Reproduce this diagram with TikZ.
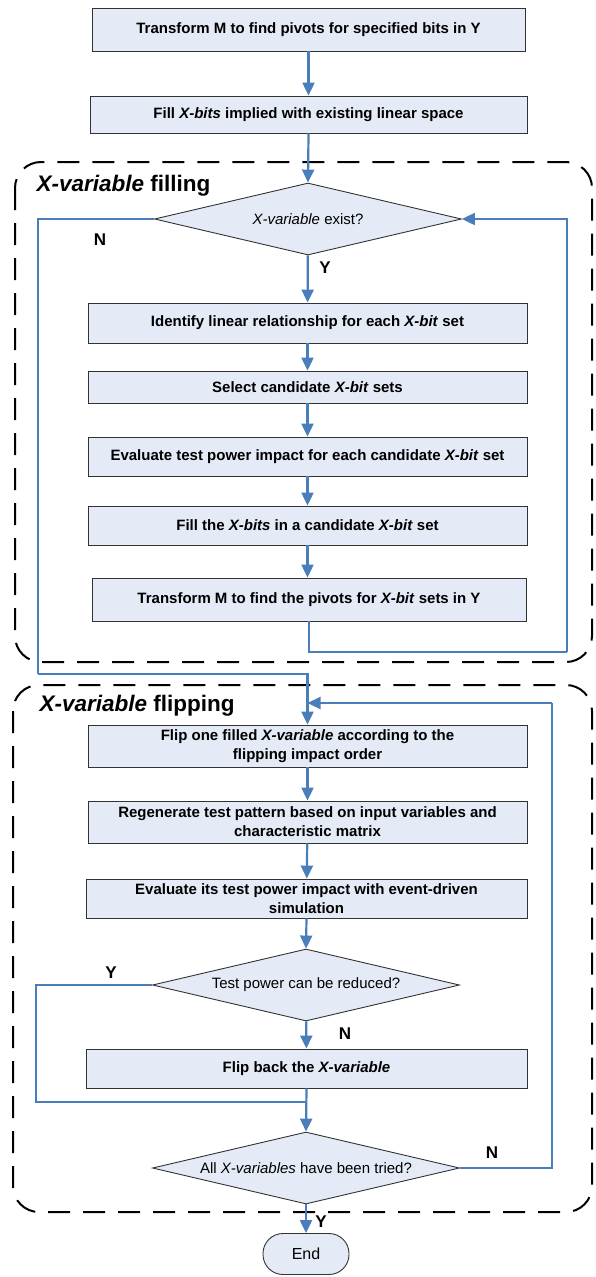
\documentclass[tikz,border=0pt]{standalone}
\usepackage{fontspec}
\setmainfont{Liberation Sans}
\usepackage{xcolor}
\usepackage{tikz}
\usetikzlibrary{arrows.meta,positioning,shapes.geometric}
\definecolor{boxfill}{RGB}{229,235,246}
\definecolor{flowblue}{RGB}{74,126,187}

\begin{document}
\begin{tikzpicture}[x=1pt,y=-1pt,
  stepbox/.style={draw=black!80,fill=boxfill,line width=0.9pt,minimum width=439pt,inner sep=2pt,
    font=\fontsize{15}{19}\selectfont\bfseries,align=center},
  decision/.style={diamond,draw=black!80,fill=boxfill,line width=0.9pt,minimum width=307pt,
    minimum height=72pt,aspect=4.2,inner sep=0pt,font=\fontsize{15}{18}\selectfont},
  group/.style={draw=black,line width=2pt,dash pattern=on 22pt off 13pt,rounded corners=26pt},
  flow/.style={draw=flowblue,line width=2.2pt,-{Triangle[length=13pt,width=12pt]}},
  link/.style={draw=flowblue,line width=2.2pt},
  yn/.style={font=\fontsize{17}{19}\selectfont\bfseries},
  grouptitle/.style={font=\fontsize{22.5}{26}\selectfont\bfseries,anchor=west}]
\useasboundingbox (0,0) rectangle (596,1277);

% dashed groups
\draw[group] (15,162) rectangle (592,662);
\draw[group] (13,685) rectangle (592,1212);
\node[grouptitle] (filltitle) at (33,186) {\textit{X-variable} filling};
\node[grouptitle] (fliptitle) at (36,706) {\textit{X-variable} flipping};

% filling part
\node[stepbox,minimum width=433pt,minimum height=43pt] (pivots) at (308.5,29.5) {Transform M to find pivots for specified bits in Y};
\node[stepbox,minimum width=437pt,minimum height=37pt] (implied) at (308.5,114.5) {Fill \textit{X-bits} implied with existing linear space};
\node[decision] (xexist) at (308,219) {\textit{X-variable} exist?};
\node[stepbox,minimum height=40pt] (identify) at (307.5,323) {Identify linear relationship for each \textit{X-bit} set};
\node[stepbox,minimum height=32pt] (select) at (307.5,387) {Select candidate \textit{X-bit} sets};
\node[stepbox,minimum height=39pt] (evalcand) at (307.5,456.5) {Evaluate test power impact for each candidate \textit{X-bit} set};
\node[stepbox,minimum height=39pt] (fillset) at (307.5,525.5) {Fill the \textit{X-bits} in a candidate \textit{X-bit} set};
\node[stepbox,minimum width=434pt,minimum height=43pt] (transform) at (309,599.5) {Transform M to find the pivots for \textit{X-bit} sets in Y};

% flipping part
\node[stepbox,minimum height=42pt] (flipone) at (307.5,746) {Flip one filled \textit{X-variable} according to the\\flipping impact order};
\node[stepbox,minimum height=42pt] (regen) at (307.5,822) {Regenerate test pattern based on input variables and\\characteristic matrix};
\node[stepbox,minimum width=441pt,minimum height=39pt] (evalsim) at (306.5,898.5) {Evaluate its test power impact with event-driven\\simulation};
\node[decision] (reduced) at (306,985) {Test power can be reduced?};
\node[stepbox,minimum width=441pt,minimum height=39pt] (flipback) at (306.5,1068.5) {Flip back the \textit{X-variable}};
\node[decision] (alltried) at (306,1168) {All \textit{X-variables} have been tried?};
\node[draw=black!80,fill=boxfill,line width=0.9pt,rounded corners=20pt,minimum width=86pt,
  minimum height=41pt,font=\fontsize{16}{18}\selectfont] (endnode) at (306,1254) {End};

% helper corners
\coordinate (loopR) at (567,652);
\coordinate (nleft) at (38,674);
\coordinate (backR) at (552,703);
\coordinate (yleft) at (36,1102);

% connectors
\draw[flow] (pivots) -- (implied);
\draw[flow] (implied.south) -- (xexist.north);
\draw[flow] (xexist) -- (identify);
\draw[flow] (identify) -- (select);
\draw[flow] (select) -- (evalcand);
\draw[flow] (evalcand) -- (fillset);
\draw[flow] (fillset.south) -- (transform.north -| fillset.south);
\draw[link] (transform.south) |- (loopR);
\draw[flow] (loopR) |- (xexist.east);
\draw[link] (xexist.west) -| (nleft);
\draw[flow] (nleft) -| (flipone.north);
\draw[link] (alltried.east) -| (backR);
\draw[flow] (backR) -- (backR -| flipone.north);
\draw[flow] (flipone) -- (regen);
\draw[flow] (regen) -- (evalsim);
\draw[flow] (evalsim.south) -- (reduced.north);
\draw[flow] (reduced) -- (flipback);
\draw[link] (reduced.west) -| (yleft) -- (yleft -| alltried.north);
\draw[flow] (flipback.south) -- (alltried.north);
\draw[flow] (alltried) -- (endnode);

% branch labels
\node[yn] (n1) at (100,240) {N};
\node[yn] (y1) at (325,268) {Y};
\node[yn] (y2) at (111,973) {Y};
\node[yn] (n2) at (345,1034) {N};
\node[yn] (n3) at (492,1153) {N};
\node[yn] (y3) at (321,1222) {Y};
\end{tikzpicture}
\end{document}
